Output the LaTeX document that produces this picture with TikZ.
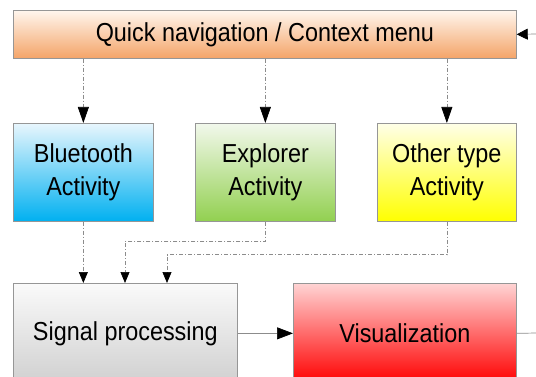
\documentclass[tikz,border=0pt]{standalone}
\usepackage{fontspec}
\setmainfont{Liberation Sans}[FakeStretch=0.9]
\usetikzlibrary{arrows.meta}
\definecolor{boxgray}{RGB}{150,150,150}
\definecolor{linegray}{RGB}{140,140,140}
\definecolor{orTop}{RGB}{255,246,238}
\definecolor{orBot}{RGB}{244,164,104}
\definecolor{blTop}{RGB}{232,246,253}
\definecolor{blBot}{RGB}{0,176,240}
\definecolor{grTop}{RGB}{242,248,236}
\definecolor{grBot}{RGB}{146,208,80}
\definecolor{yeTop}{RGB}{255,255,232}
\definecolor{yeBot}{RGB}{255,255,0}
\definecolor{gyTop}{RGB}{250,250,250}
\definecolor{gyBot}{RGB}{208,208,208}
\definecolor{rdTop}{RGB}{255,212,212}
\definecolor{rdBot}{RGB}{255,0,0}
\begin{document}
\begin{tikzpicture}[x=1pt,y=-1pt,
  box/.style={draw=boxgray, line width=0.7pt, inner sep=0pt, align=center,
    font=\fontsize{26}{33}\selectfont, anchor=north west},
  conn/.style={draw=linegray, line width=0.7pt,
    dash pattern=on 4pt off 2pt on 1pt off 2pt,
    -{Triangle[width=9pt,length=11pt,color=black]}},
  longconn/.style={conn, -{Triangle[width=11pt,length=16pt,color=black]}},
  solidc/.style={draw=linegray, line width=0.7pt,
    -{Triangle[width=12pt,length=16pt,color=black]}},
  solidshort/.style={draw=linegray, line width=0.7pt,
    -{Triangle[width=11pt,length=11pt,color=black]}},
  plain/.style={draw=linegray, line width=0.7pt}]
\useasboundingbox (0,0) rectangle (536,377);
\clip (0,0) rectangle (536,377);
\node[box, minimum width=503pt, minimum height=48pt, top color=orTop, bottom color=orBot] (nav) at (13,10) {Quick navigation / Context menu};
\node[box, minimum width=140pt, minimum height=98pt, top color=blTop, bottom color=blBot] (bt) at (13,123) {Bluetooth\\Activity};
\node[box, minimum width=140pt, minimum height=98pt, top color=grTop, bottom color=grBot] (ex) at (195,123) {Explorer\\Activity};
\node[box, minimum width=139pt, minimum height=98pt, top color=yeTop, bottom color=yeBot] (ot) at (377,123) {Other type\\Activity};
\node[box, minimum width=224pt, minimum height=100pt, top color=gyTop, bottom color=gyBot] (sp) at (13,283) {Signal processing};
\node[box, minimum width=223pt, minimum height=100pt, top color=rdTop, bottom color=rdBot] (vis) at (293,283) {Visualization};
\coordinate (in1) at (84,283);
\coordinate (in2) at (125,283);
\coordinate (in3) at (167,283);
\coordinate (rin) at (537,34);
\coordinate (rout) at (537,333);
\draw[longconn] (nav.south -| bt.north) -- (bt.north);
\draw[longconn] (nav.south -| ex.north) -- (ex.north);
\draw[longconn] (nav.south -| ot.north) -- (ot.north);
\draw[conn] (bt.south) -- (bt.south |- in1);
\draw[conn] (ex.south) -- ++(0,20) -| (in2);
\draw[conn] (ot.south) -- ++(0,33) -| (in3);
\draw[solidc] (sp.east) -- (vis.west);
\draw[solidshort] (rin) -- (nav.east);
\draw[plain] (vis.east) -- (rout);
\end{tikzpicture}
\end{document}
